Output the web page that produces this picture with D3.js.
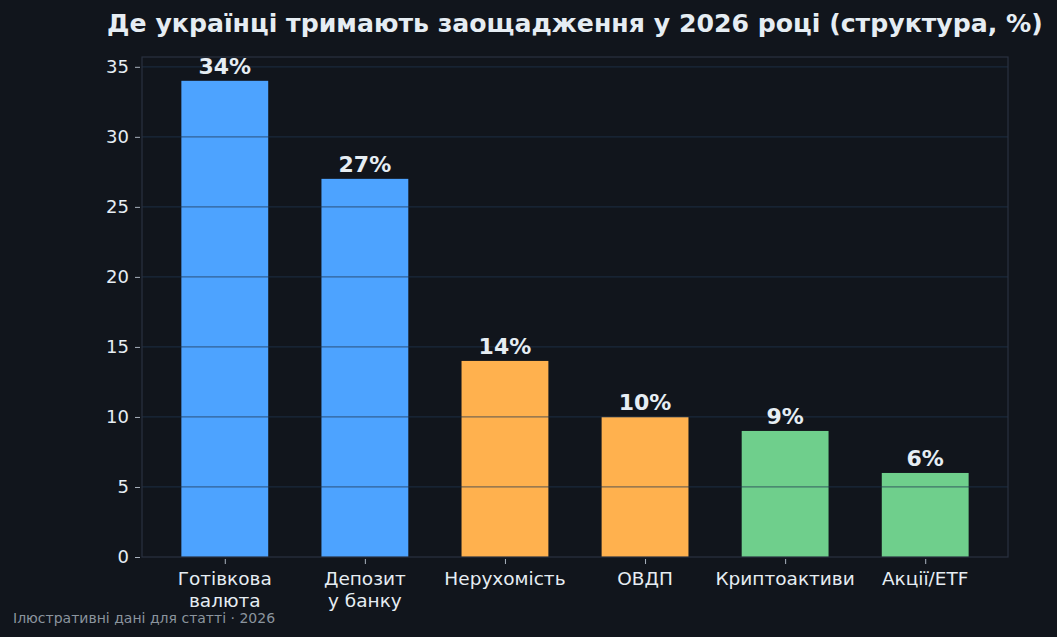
<!DOCTYPE html>
<html>
<head>
<meta charset="utf-8">
<script src="https://cdn.jsdelivr.net/npm/d3@7"></script>
<style>
	body {margin:0; background:#11151c;}
	svg {display:block;}
	text {font-family:"DejaVu Sans", sans-serif;}
</style>
</head>
<body>
<svg id="chart" width="1057" height="637"></svg>
<script>
var categories = [["Готівкова", "валюта"], ["Депозит", "у банку"], ["Нерухомість"], ["ОВДП"], ["Криптоактиви"], ["Акції/ETF"]];
var shares = [34, 27, 14, 10, 9, 6];
var barColors = ["#4da3ff", "#4da3ff", "#ffb14e", "#ffb14e", "#6fcf8c", "#6fcf8c"];
var yTicks = [0, 5, 10, 15, 20, 25, 30, 35];

var svg = d3.select("#chart");
var m = {left:142, right:1008, top:57, bottom:557};

var x = d3.scaleLinear().domain([-0.591, 5.591]).range([m.left, m.right]);
var y = d3.scaleLinear().domain([0, 35.7]).range([m.bottom, m.top]);
var barW = x(0.62) - x(0);

svg.append("rect").attr("width", 1057).attr("height", 637).attr("fill", "#11151c");

// bars
svg.selectAll("rect.bar").data(shares).enter().append("rect")
	.attr("class", "bar")
	.attr("x", function(d, i) {return x(i) - barW/2;})
	.attr("y", function(d) {return y(d);})
	.attr("width", barW)
	.attr("height", function(d) {return y(0) - y(d);})
	.attr("fill", function(d, i) {return barColors[i];});

// grid over bars
svg.selectAll("line.grid").data(yTicks.slice(1)).enter().append("line")
	.attr("class", "grid")
	.attr("x1", m.left).attr("x2", m.right)
	.attr("y1", function(d) {return y(d);})
	.attr("y2", function(d) {return y(d);})
	.attr("stroke", "#1f3550")
	.attr("stroke-opacity", 0.6)
	.attr("stroke-width", 1.2);

// frame
svg.append("rect")
	.attr("x", m.left).attr("y", m.top)
	.attr("width", m.right - m.left).attr("height", m.bottom - m.top)
	.attr("fill", "none").attr("stroke", "#2a3140").attr("stroke-width", 1.2);

// y axis
var yAxis = d3.axisLeft(y).tickValues(yTicks).tickSize(5).tickPadding(6);
var gy = svg.append("g").attr("transform", "translate(" + (m.left - 2) + ",0)").call(yAxis);
gy.select(".domain").remove();
gy.selectAll("line").attr("stroke", "#aab3bf");
gy.selectAll("text").attr("fill", "#e6edf3").style("font-size", "18px");

// x axis
var xAxis = d3.axisBottom(x).tickValues(d3.range(categories.length)).tickSize(5).tickFormat("");
var gx = svg.append("g").attr("transform", "translate(0," + (m.bottom + 2) + ")").call(xAxis);
gx.select(".domain").remove();
gx.selectAll("line").attr("stroke", "#aab3bf");

// category labels, one text per line
categories.forEach(function(lines, i) {
	svg.selectAll(null).data(lines).enter().append("text")
		.attr("class", "cat")
		.attr("x", x(i))
		.attr("y", function(d, j) {return 585 + j*21.5;})
		.attr("text-anchor", "middle")
		.attr("fill", "#e6edf3")
		.style("font-size", "18.5px")
		.text(function(d) {return d;});
});

// value labels
svg.selectAll("text.val").data(shares).enter().append("text")
	.attr("class", "val")
	.attr("x", function(d, i) {return x(i);})
	.attr("y", function(d) {return y(d) - 7;})
	.attr("text-anchor", "middle")
	.attr("fill", "#e6edf3")
	.style("font-size", "22px")
	.style("font-weight", "bold")
	.text(function(d) {return d + "%";});

// title
svg.append("text")
	.attr("x", (m.left + m.right)/2).attr("y", 32)
	.attr("text-anchor", "middle")
	.attr("fill", "#e6edf3")
	.style("font-size", "25.2px")
	.style("font-weight", "bold")
	.text("Де українці тримають заощадження у 2026 році (структура, %)");

// footer
svg.append("text")
	.attr("x", 13).attr("y", 623)
	.attr("fill", "#8b949e")
	.style("font-size", "14px")
	.text("Ілюстративні дані для статті · 2026");
</script>
</body>
</html>
